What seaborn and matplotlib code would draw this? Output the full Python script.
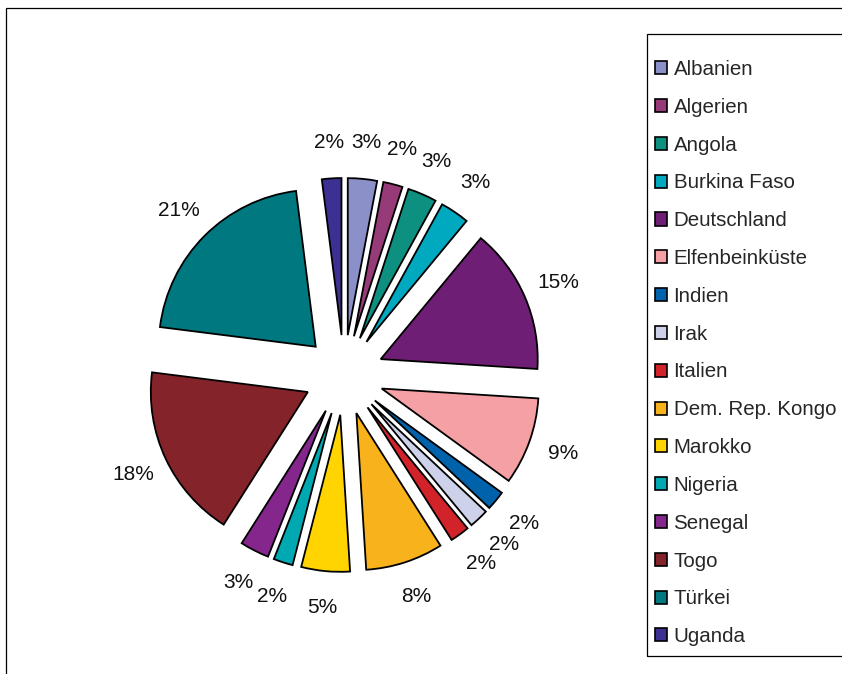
import matplotlib
matplotlib.use("Agg")
import matplotlib.pyplot as plt
import seaborn as sns
from matplotlib.patches import Rectangle, Patch

countries = ["Albanien", "Algerien", "Angola", "Burkina Faso", "Deutschland",
             "Elfenbeinküste", "Indien", "Irak", "Italien", "Dem. Rep. Kongo",
             "Marokko", "Nigeria", "Senegal", "Togo", "Türkei", "Uganda"]
shares = [3, 2, 3, 3, 15, 9, 2, 2, 2, 8, 5, 2, 3, 18, 21, 2]
colors = ["#8B90C8", "#963A78", "#0E9080", "#00A8C0", "#6E1E74",
          "#F4A0A4", "#0062AA", "#CDD2EA", "#D2232A", "#F8B21C",
          "#FFD400", "#00A8B2", "#84268C", "#84242A", "#007880", "#3C3092"]

sns.set_style("white")
plt.rcParams["font.family"] = ["Liberation Sans", "DejaVu Sans"]

W, H = 842, 674
fig = plt.figure(figsize=(W / 100, H / 100), dpi=100)
ax = fig.add_axes([0, 0, 1, 1])

# chart area frame (runs off the right and bottom edges)
ax.add_patch(Rectangle((6, -10), 900, H - 8 + 10, fill=False,
                       edgecolor="black", linewidth=0.9))
# legend box
ax.add_patch(Rectangle((647, H - 656), 300, 656 - 34, fill=False,
                       edgecolor="black", linewidth=0.9))

wedges, texts, autotexts = ax.pie(
    shares, colors=colors, startangle=90, counterclock=False,
    center=(344, H - 375), radius=157, explode=[40] * len(shares),
    autopct="%.0f%%", pctdistance=1.23,
    wedgeprops=dict(edgecolor="black", linewidth=1.3),
    textprops=dict(fontsize=15, color="#111111"),
    frame=True)
ax.set_xlim(0, W)
ax.set_ylim(0, H)
ax.set_aspect("equal")
ax.axis("off")

handles = [Patch(facecolor=c, edgecolor="black", linewidth=1.2) for c in colors]
leg = ax.legend(handles, countries, loc="upper left",
                bbox_to_anchor=(655 / W, 1 - 60 / H),
                bbox_transform=fig.transFigure,
                fontsize=14.8, frameon=False,
                handlelength=0.6, handleheight=0.6, handletextpad=0.3,
                labelspacing=0.915, borderpad=0, borderaxespad=0)

fig.savefig("out.png", dpi=100, facecolor="white")
